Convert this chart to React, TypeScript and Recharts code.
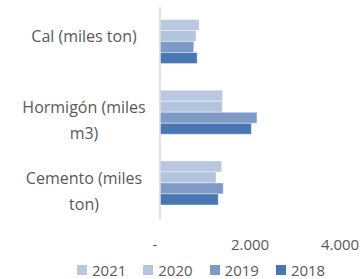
import { BarChart, Bar, XAxis, YAxis, Legend, Text } from 'recharts'

const FONT = '"Open Sans", sans-serif'
const TEXT = '#595959'

const categories = ['Cal (miles ton)', 'Hormigón (miles m3)', 'Cemento (miles ton)']
const years = ['2021', '2020', '2019', '2018']
const v2021 = [870, 1390, 1370]
const v2020 = [800, 1385, 1245]
const v2019 = [750, 2155, 1405]
const v2018 = [825, 2030, 1295]
const xTicks = [0, 2000, 4000]
const colors = ['#B9C7E1', '#B4C3DE', '#7E9BC8', '#4877B3']

const data = categories.map((name, i) => ({
  name,
  '2021': v2021[i],
  '2020': v2020[i],
  '2019': v2019[i],
  '2018': v2018[i],
}))

const fmt = (v: number) => (v === 0 ? '-' : String(v).replace(/\B(?=(\d{3})+(?!\d))/g, '.'))

const YTick = ({ y, payload }: any) => (
  <Text
    x={84}
    y={y}
    width={132}
    textAnchor="middle"
    verticalAnchor="middle"
    lineHeight="26px"
    fill={TEXT}
    style={{ fontSize: 16, fontFamily: FONT }}
  >
    {payload.value}
  </Text>
)

const XTick = ({ x, y, payload }: any) => (
  <text
    x={payload.value === 0 ? x - 5 : x}
    y={y + 18}
    dy="0.355em"
    textAnchor="middle"
    fill={TEXT}
    fontSize={15}
    fontFamily={FONT}
  >
    {fmt(payload.value)}
  </text>
)

const LegendContent = () => (
  <div style={{ display: 'flex', paddingLeft: 77, height: 24, paddingTop: 6, boxSizing: 'border-box', fontFamily: FONT, fontSize: 15, color: TEXT, lineHeight: '16px' }}>
    {years.map((yr, i) => (
      <div key={yr} style={{ width: 66.3, display: 'flex', alignItems: 'center' }}>
        <span style={{ display: 'inline-block', width: 10, height: 10, background: colors[i], marginRight: 5 }} />
        <span>{yr}</span>
      </div>
    ))}
  </div>
)

export default function App() {
  return (
    <div style={{ position: 'absolute', left: 0, top: 0, background: '#fff' }}>
      <BarChart
        width={362}
        height={279}
        data={data}
        layout="vertical"
        margin={{ top: 7, right: 22, left: 0, bottom: 0 }}
        barCategoryGap="17.8%"
        barGap={0}
      >
        <XAxis
          type="number"
          domain={[0, 4000]}
          ticks={xTicks}
          axisLine={false}
          tickLine={false}
          height={36}
          tick={<XTick />}
          interval={0}
        />
        <YAxis
          type="category"
          dataKey="name"
          width={160}
          axisLine={{ stroke: '#D9D9D9', strokeWidth: 1.5 }}
          tickLine={false}
          tick={<YTick />}
          interval={0}
        />
        <Legend verticalAlign="bottom" content={<LegendContent />} wrapperStyle={{ left: 0, width: 362 }} />
        {years.map((yr, i) => (
          <Bar
            key={yr}
            dataKey={yr}
            fill={colors[i]}
            stroke="#ffffff"
            strokeOpacity={0.5}
            strokeWidth={0.8}
            isAnimationActive={false}
          />
        ))}
      </BarChart>
    </div>
  )
}
